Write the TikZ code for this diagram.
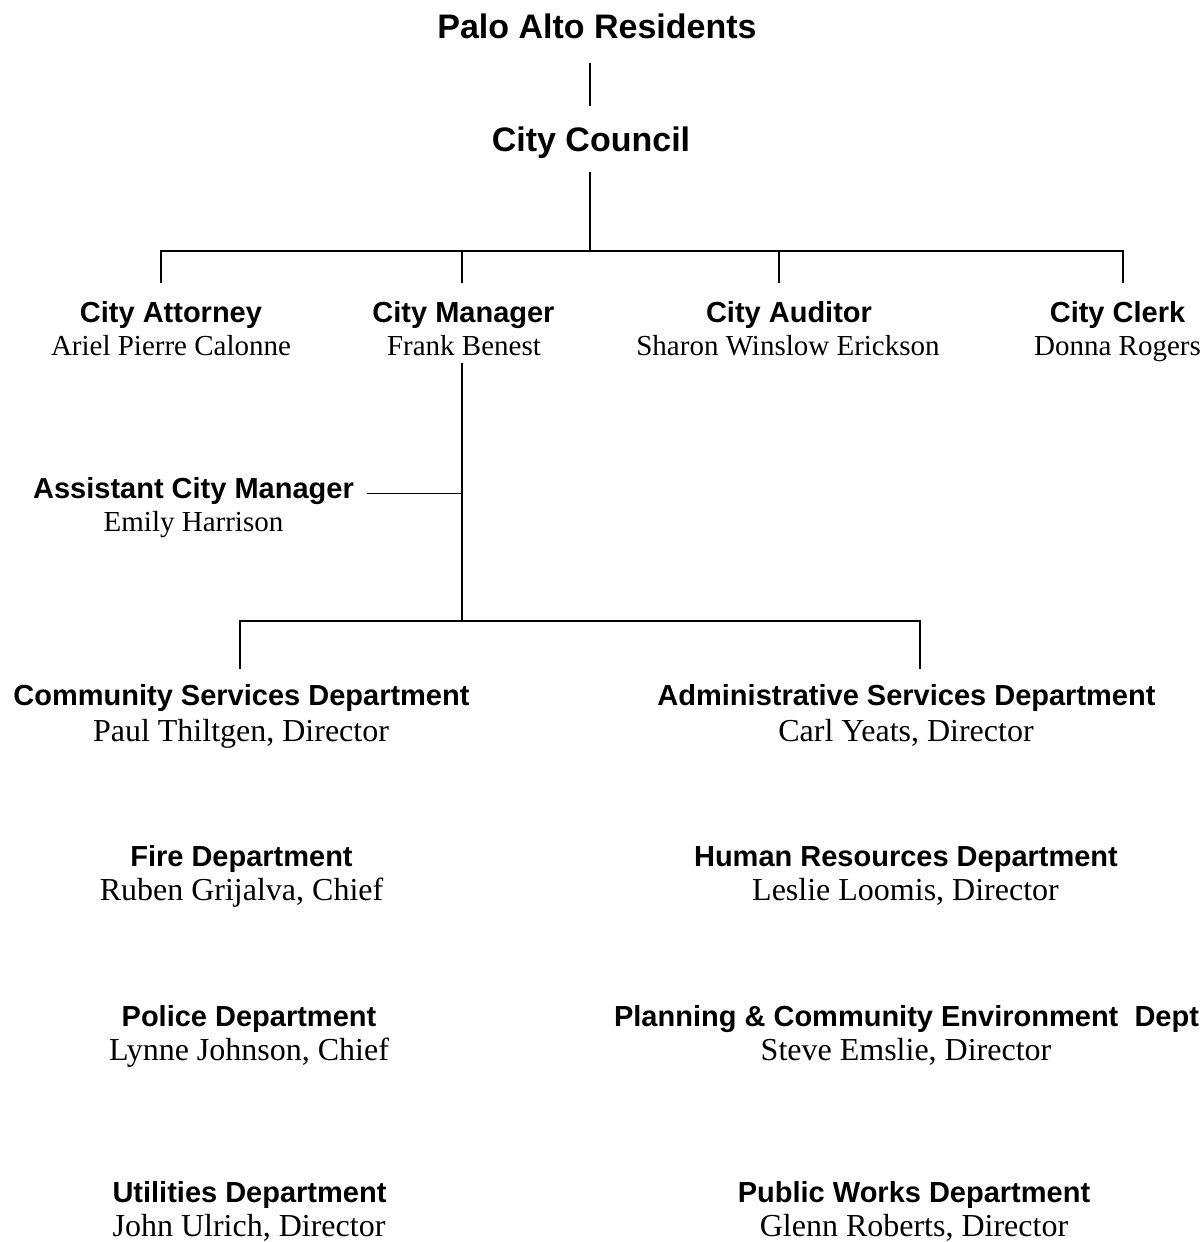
\documentclass[tikz,border=0pt]{standalone}
\usepackage{fontspec}
\setmainfont{Liberation Serif}
\setsansfont{Liberation Sans}
\newcommand\titlefont{\sffamily\bfseries\fontsize{17}{20}\selectfont}
\newcommand\headfont{\sffamily\bfseries\fontsize{14.5}{17}\selectfont}
\newcommand\whofont{\rmfamily\fontsize{14.5}{17}\selectfont}
\newcommand\deptwhofont{\rmfamily\fontsize{16}{19}\selectfont}
\tikzset{
  title/.style={font=\titlefont, inner sep=0pt, anchor=base},
  head/.style={font=\headfont, inner sep=0pt, anchor=base},
  who/.style={font=\whofont, inner sep=0pt, anchor=base},
  deptwho/.style={font=\deptwhofont, inner sep=0pt, anchor=base},
  link/.style={line width=0.8pt}
}
\begin{document}
\begin{tikzpicture}[x=0.5pt,y=-0.5pt]
\useasboundingbox (0,0) rectangle (1203,1242);
% top of the chart
\node[title] (res) at (597,39) {Palo Alto Residents};
\node[title] (council) at (591,151) {City Council};
\coordinate (cc) at (590,251);
% officers appointed by the council
\node[head] (atty) at (171,322) {City Attorney};
\node[who] (attyname) at (171,355) {Ariel Pierre Calonne};
\node[head] (mgr) at (463.5,322) {City Manager};
\node[who] (mgrname) at (464,355) {Frank Benest};
\node[head] (aud) at (789,322) {City Auditor};
\node[who] (audname) at (788,355) {Sharon Winslow Erickson};
\node[head] (clerk) at (1117.5,322) {City Clerk};
\node[who] (clerkname) at (1117.5,355) {Donna Rogers};
% under the manager
\node[head] (acm) at (193.5,498) {Assistant City Manager};
\node[who] (acmname) at (193.5,531) {Emily Harrison};
\coordinate (mj) at (462,621);
\node[head] (csd) at (241.5,705) {Community Services Department};
\node[deptwho] (csdname) at (241,741) {Paul Thiltgen, Director};
\node[head] (asd) at (906.5,705) {Administrative Services Department};
\node[deptwho] (asdname) at (906,741) {Carl Yeats, Director};
\node[head] (fire) at (241.5,866) {Fire Department};
\node[deptwho] (firename) at (241.5,900) {Ruben Grijalva, Chief};
\node[head] (hr) at (906,866) {Human Resources Department};
\node[deptwho] (hrname) at (905.5,900) {Leslie Loomis, Director};
\node[head] (police) at (249,1026) {Police Department};
\node[deptwho] (policename) at (249,1060) {Lynne Johnson, Chief};
\node[head] (pce) at (906.5,1026) {Planning \& Community Environment~~Dept};
\node[deptwho] (pcename) at (906,1060) {Steve Emslie, Director};
\node[head] (util) at (249.5,1202) {Utilities Department};
\node[deptwho] (utilname) at (249,1236) {John Ulrich, Director};
\node[head] (pw) at (914,1202) {Public Works Department};
\node[deptwho] (pwname) at (914,1236) {Glenn Roberts, Director};
% connectors
\draw[link] ([yshift=-11.5pt]res.south -| cc) -- ([yshift=10pt]council.north -| cc);
\draw[link] ([yshift=-7pt]council.south -| cc) -- (cc);
\draw[link] ([xshift=-5pt,yshift=8.75pt]atty.north) coordinate (d1) -- (d1 |- cc)
  -- ([xshift=2.75pt]clerk.north |- cc) -- ([xshift=2.75pt,yshift=8.75pt]clerk.north);
\draw[link] ([xshift=-0.75pt,yshift=8.75pt]mgr.north) -- ([xshift=-0.75pt]mgr.north |- cc);
\draw[link] ([xshift=-5pt,yshift=8.75pt]aud.north) -- ([xshift=-5pt]aud.north |- cc);
\draw[link] ([yshift=-3.5pt]mgrname.south -| mj) -- (mj);
\draw[link] ([xshift=6.5pt,yshift=-1.5pt]acm.east) -- ([yshift=-1.5pt]acm.east -| mj);
\draw[link] ([xshift=-0.75pt,yshift=7.5pt]csd.north) coordinate (d5) -- (d5 |- mj)
  -- ([xshift=6.75pt]asd.north |- mj) -- ([xshift=6.75pt,yshift=7.5pt]asd.north);
\end{tikzpicture}
\end{document}
